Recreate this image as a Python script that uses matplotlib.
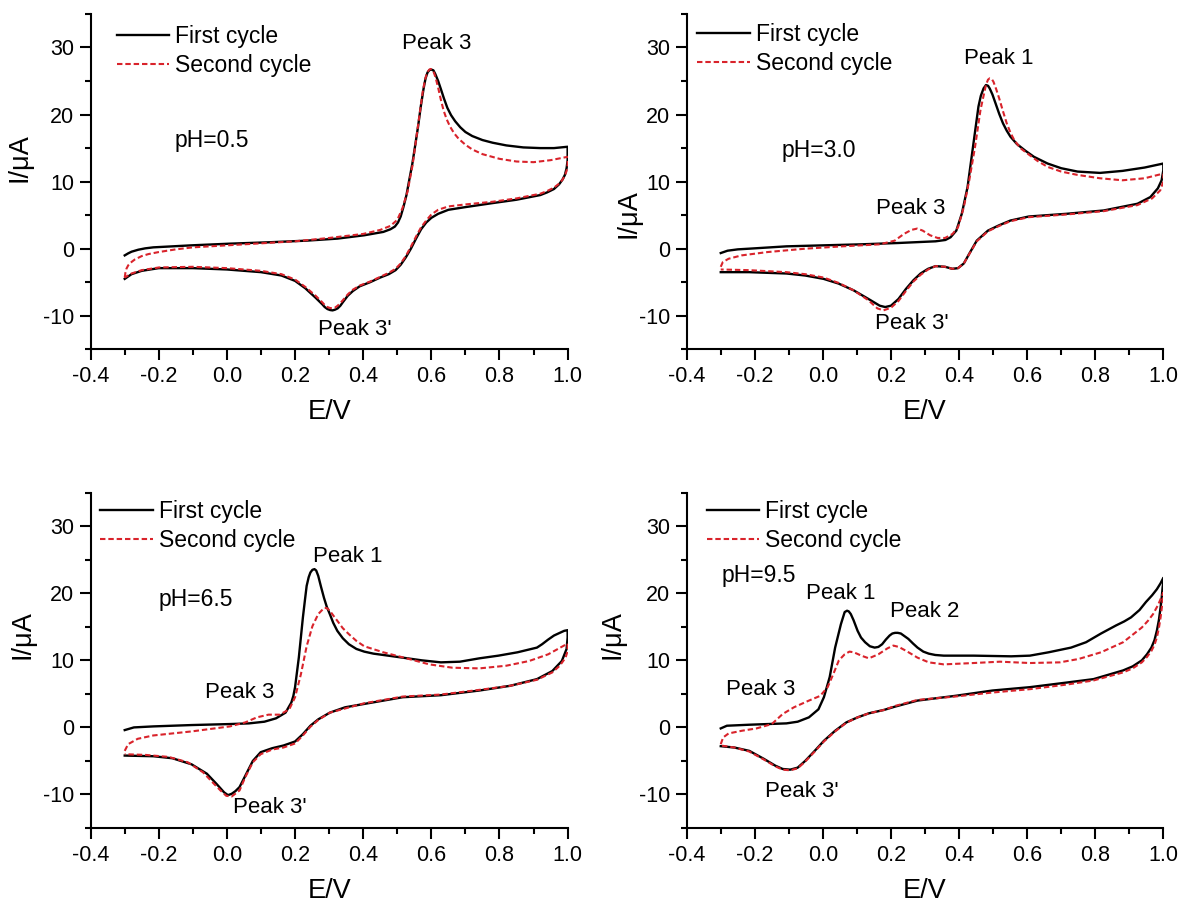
import matplotlib
matplotlib.use("Agg")
import matplotlib.pyplot as plt
from matplotlib.ticker import MultipleLocator

plt.rcParams['font.family'] = ['Liberation Sans', 'DejaVu Sans']

RED = '#d9232b'

# ---------------- pH = 0.5 ----------------
ph05_first_E = [-0.3, -0.29, -0.28, -0.26, -0.24, -0.216, -0.16, -0.104, 0.009, 0.12, 0.234,
                0.324, 0.403, 0.459, 0.48, 0.493, 0.502, 0.51, 0.518, 0.527, 0.535, 0.544,
                0.552, 0.561, 0.569, 0.577, 0.583, 0.589, 0.595, 0.6, 0.606, 0.612, 0.62,
                0.628, 0.637, 0.647, 0.658, 0.67, 0.685, 0.70, 0.72, 0.75, 0.78, 0.82, 0.87,
                0.92, 0.96, 1.0,
                1.0, 0.997, 0.992, 0.985, 0.975, 0.96, 0.94, 0.92, 0.85, 0.78, 0.70, 0.65,
                0.62, 0.60, 0.585, 0.57, 0.555, 0.54, 0.525, 0.51, 0.495, 0.475, 0.45, 0.42,
                0.39, 0.37, 0.355, 0.34, 0.333, 0.325, 0.317, 0.31, 0.303, 0.295, 0.287, 0.28,
                0.26, 0.23, 0.2, 0.16, 0.1, 0.0, -0.1, -0.2, -0.25, -0.28, -0.3]
ph05_first_I = [-1.0, -0.7, -0.45, -0.15, 0.05, 0.2, 0.35, 0.5, 0.75, 0.95, 1.2,
                1.5, 2.0, 2.5, 2.9, 3.3, 3.9, 4.8, 6.2, 8.0, 10.2, 12.6,
                15.2, 18.2, 21.2, 23.8, 25.4, 26.3, 26.65, 26.7, 26.6, 26.0, 25.0,
                23.8, 22.4, 21.0, 19.9, 19.0, 18.1, 17.4, 16.8, 16.2, 15.8, 15.4, 15.1,
                15.0, 15.0, 15.2,
                13.2, 12.0, 11.0, 10.3, 9.6, 8.9, 8.4, 8.0, 7.3, 6.8, 6.2, 5.8,
                5.2, 4.6, 3.9, 2.9, 1.5, 0.0, -1.3, -2.4, -3.2, -3.8, -4.3, -5.0,
                -5.6, -6.3, -7.0, -8.0, -8.5, -8.9, -9.1, -9.2, -9.15, -9.0, -8.7, -8.3,
                -7.3, -5.9, -4.8, -4.0, -3.5, -3.1, -2.9, -2.9, -3.3, -3.8, -4.5]
ph05_second_E = [-0.3, -0.298, -0.295, -0.29, -0.285, -0.278, -0.27, -0.26, -0.25, -0.23, -0.2,
                 -0.15, -0.1, 0.0, 0.1, 0.2, 0.3, 0.4, 0.45, 0.48, 0.5, 0.515, 0.53, 0.545,
                 0.56, 0.575, 0.582, 0.588, 0.594, 0.598, 0.605, 0.612, 0.62, 0.628, 0.636,
                 0.645, 0.655, 0.667, 0.68, 0.70, 0.72, 0.75, 0.8, 0.85, 0.9, 0.95, 1.0,
                 1.0, 0.997, 0.992, 0.985, 0.975, 0.96, 0.94, 0.92, 0.85, 0.78, 0.7, 0.65,
                 0.62, 0.60, 0.585, 0.57, 0.555, 0.54, 0.525, 0.51, 0.495, 0.475, 0.45, 0.42,
                 0.39, 0.37, 0.355, 0.34, 0.333, 0.325, 0.317, 0.31, 0.303, 0.295, 0.287, 0.28,
                 0.26, 0.23, 0.2, 0.16, 0.1, 0.0, -0.1, -0.2, -0.25, -0.28, -0.3]
ph05_second_I = [-4.3, -3.6, -3.0, -2.5, -2.2, -1.9, -1.6, -1.35, -1.1, -0.8, -0.5,
                 -0.1, 0.2, 0.5, 0.8, 1.1, 1.6, 2.2, 2.8, 3.4, 4.3, 6.0, 8.5, 12.5,
                 18.0, 23.5, 25.3, 26.3, 26.7, 26.8, 26.6, 25.6, 24.0, 22.2, 20.6,
                 19.3, 18.2, 17.2, 16.4, 15.5, 14.8, 14.1, 13.4, 13.0, 12.9, 13.2, 13.7,
                 12.5, 11.6, 10.9, 10.3, 9.7, 9.1, 8.6, 8.2, 7.5, 7.0, 6.6, 6.3,
                 5.8, 5.1, 4.2, 3.2, 1.8, 0.3, -1.1, -2.2, -3.0, -3.6, -4.2, -4.9,
                 -5.5, -6.1, -6.8, -7.7, -8.1, -8.5, -8.8, -8.9, -8.85, -8.7, -8.4, -8.0,
                 -7.0, -5.7, -4.6, -3.8, -3.3, -2.9, -2.7, -2.8, -3.2, -3.7, -4.3]

# ---------------- pH = 3.0 ----------------
ph30_first_E = [-0.3, -0.28, -0.25, -0.217, -0.107, 0.002, 0.112, 0.222, 0.331, 0.36, 0.375,
                0.392, 0.408, 0.425, 0.441, 0.457, 0.464, 0.472, 0.479, 0.485, 0.49, 0.498,
                0.507, 0.518, 0.529, 0.54, 0.551, 0.57, 0.595, 0.62, 0.66, 0.7, 0.748,
                0.814, 0.88, 0.945, 1.0,
                1.0, 0.995, 0.984, 0.962, 0.924, 0.825, 0.715, 0.605, 0.551, 0.518, 0.485,
                0.452, 0.43, 0.414, 0.397, 0.38, 0.359, 0.331, 0.309, 0.287, 0.266, 0.244,
                0.222, 0.2, 0.183, 0.167, 0.134, 0.09, 0.046, 0.002, -0.052, -0.107, -0.217,
                -0.3]
ph30_first_I = [-0.65, -0.3, -0.1, 0.0, 0.35, 0.5, 0.65, 0.85, 1.1, 1.3, 1.7,
                2.7, 5.2, 9.2, 15.2, 21.2, 22.8, 23.9, 24.4, 24.3, 23.9, 23.0,
                21.7, 20.1, 18.7, 17.6, 16.7, 15.6, 14.6, 13.7, 12.7, 12.0, 11.5,
                11.3, 11.6, 12.1, 12.7,
                11.7, 10.2, 9.0, 7.7, 6.7, 5.7, 5.2, 4.8, 4.2, 3.5, 2.7,
                1.2, -0.75, -2.2, -2.9, -3.0, -2.7, -2.6, -3.0, -3.7, -4.7, -6.0,
                -7.5, -8.5, -8.7, -8.5, -7.5, -6.2, -5.2, -4.5, -4.0, -3.7, -3.5,
                -3.5]
ph30_second_E = [-0.3, -0.294, -0.277, -0.239, -0.162, -0.052, 0.057, 0.167, 0.211, 0.238, 0.26,
                 0.277, 0.293, 0.315, 0.337, 0.359, 0.381, 0.397, 0.414, 0.43, 0.447, 0.463,
                 0.472, 0.479, 0.485, 0.49, 0.496, 0.501, 0.509, 0.518, 0.529, 0.54, 0.551,
                 0.562, 0.58, 0.606, 0.63, 0.66, 0.7, 0.748, 0.814, 0.88, 0.945, 1.0,
                 1.0, 0.991, 0.967, 0.924, 0.825, 0.715, 0.605, 0.551, 0.518, 0.485,
                 0.452, 0.43, 0.414, 0.397, 0.38, 0.359, 0.331, 0.309, 0.287, 0.266, 0.244,
                 0.222, 0.2, 0.178, 0.16, 0.134, 0.09, 0.046, 0.002, -0.052, -0.107, -0.217,
                 -0.3]
ph30_second_I = [-2.7, -2.0, -1.5, -1.0, -0.5, 0.0, 0.35, 0.65, 1.2, 2.2, 2.8,
                 3.0, 2.7, 2.0, 1.6, 1.6, 2.2, 3.2, 6.2, 10.2, 15.2, 20.7,
                 22.8, 24.4, 25.2, 25.4, 25.3, 24.9, 23.8, 22.4, 20.5, 18.7, 17.3,
                 16.2, 15.0, 14.0, 13.1, 12.2, 11.5, 11.0, 10.5, 10.2, 10.5, 11.2,
                 10.0, 8.7, 7.5, 6.5, 5.6, 5.1, 4.7, 4.1, 3.4, 2.6,
                 1.1, -0.8, -2.2, -2.9, -3.0, -2.7, -2.6, -3.1, -3.9, -4.9, -6.3,
                 -7.8, -8.8, -9.2, -8.9, -7.7, -6.2, -5.1, -4.3, -3.8, -3.5, -3.2,
                 -3.1]

# ---------------- pH = 6.5 ----------------
ph65_first_E = [-0.3, -0.273, -0.216, -0.104, 0.009, 0.065, 0.11, 0.144, 0.172, 0.189, 0.195,
                0.2, 0.205, 0.211, 0.217, 0.223, 0.229, 0.234, 0.24, 0.245, 0.251, 0.257,
                0.262, 0.268, 0.276, 0.285, 0.293, 0.302, 0.312, 0.324, 0.34, 0.358, 0.38,
                0.403, 0.43, 0.459, 0.516, 0.572, 0.628, 0.684, 0.741, 0.797, 0.853, 0.91,
                0.925, 0.943, 0.96, 0.977, 0.99, 1.0,
                1.0, 0.997, 0.983, 0.955, 0.91, 0.831, 0.741, 0.628, 0.516, 0.403, 0.347,
                0.302, 0.268, 0.245, 0.223, 0.2, 0.166, 0.133, 0.099, 0.076, 0.054, 0.045,
                0.037, 0.025, 0.014, 0.003, -0.008, -0.031, -0.059, -0.104, -0.16, -0.216, -0.3]
ph65_first_I = [-0.4, 0.0, 0.15, 0.35, 0.5, 0.6, 0.85, 1.35, 2.2, 3.7, 4.7,
                6.0, 8.0, 10.4, 13.4, 16.4, 19.0, 21.1, 22.4, 23.1, 23.5, 23.6,
                23.4, 22.6, 21.0, 19.3, 18.0, 16.9, 15.6, 14.4, 13.3, 12.4, 11.7,
                11.3, 11.0, 10.8, 10.4, 10.0, 9.7, 9.8, 10.3, 10.7, 11.2, 11.9,
                12.4, 13.1, 13.7, 14.1, 14.4, 14.5,
                13.4, 11.7, 9.9, 8.4, 7.2, 6.2, 5.5, 4.8, 4.5, 3.5, 3.0,
                2.2, 1.2, 0.25, -1.0, -2.1, -2.7, -3.1, -3.7, -5.0, -7.2, -8.1,
                -8.9, -9.5, -9.9, -10.1, -9.7, -8.4, -6.9, -5.5, -4.6, -4.3, -4.2]
ph65_second_E = [-0.3, -0.29, -0.262, -0.216, -0.104, 0.009, 0.054, 0.088, 0.122, 0.155, 0.183,
                 0.2, 0.217, 0.234, 0.251, 0.268, 0.285, 0.293, 0.302, 0.312, 0.324, 0.34,
                 0.358, 0.38, 0.403, 0.459, 0.527, 0.594, 0.662, 0.741, 0.82, 0.887, 0.943, 1.0,
                 1.0, 0.994, 0.977, 0.955, 0.91, 0.831, 0.741, 0.628, 0.516, 0.403, 0.302,
                 0.268, 0.245, 0.223, 0.2, 0.166, 0.133, 0.099, 0.076, 0.054, 0.037, 0.014,
                 -0.002, -0.019, -0.042, -0.07, -0.115, -0.171, -0.239, -0.3]
ph65_second_I = [-3.5, -2.5, -1.7, -1.2, -0.6, 0.15, 0.75, 1.5, 1.9, 1.9, 2.7,
                 4.5, 7.9, 12.1, 15.1, 16.9, 17.8, 17.8, 17.4, 16.7, 15.9, 14.8,
                 13.9, 12.9, 12.1, 11.2, 10.3, 9.4, 8.9, 8.8, 9.2, 9.9, 10.9, 12.5,
                 11.4, 10.4, 9.2, 8.2, 7.1, 6.2, 5.6, 4.9, 4.6, 3.6, 2.2,
                 1.1, 0.1, -1.2, -2.4, -3.0, -3.3, -4.0, -5.2, -7.4, -9.4, -10.3,
                 -10.2, -9.4, -8.2, -6.7, -5.2, -4.4, -4.1, -4.0]

# ---------------- pH = 9.5 ----------------
ph95_first_E = [-0.3, -0.282, -0.216, -0.162, -0.107, -0.074, -0.041, -0.013, 0.003, 0.02, 0.036,
                0.053, 0.064, 0.071, 0.076, 0.082, 0.09, 0.102, 0.112, 0.124, 0.138, 0.152,
                0.163, 0.174, 0.185, 0.196, 0.204, 0.212, 0.22, 0.229, 0.24, 0.251, 0.265,
                0.278, 0.295, 0.311, 0.33, 0.355, 0.443, 0.553, 0.608, 0.663, 0.729, 0.773,
                0.817, 0.861, 0.885, 0.905, 0.93, 0.949, 0.967, 0.981, 0.992, 1.0,
                1.0, 0.998, 0.995, 0.992, 0.987, 0.981, 0.974, 0.965, 0.952, 0.937, 0.91,
                0.882, 0.795, 0.718, 0.608, 0.498, 0.388, 0.278, 0.212, 0.179, 0.135, 0.102,
                0.069, 0.036, 0.003, -0.024, -0.052, -0.074, -0.096, -0.118, -0.14, -0.173,
                -0.216, -0.26, -0.3]
ph95_first_I = [-0.15, 0.25, 0.4, 0.5, 0.6, 0.85, 1.5, 2.7, 4.5, 7.5, 11.9,
                15.4, 17.2, 17.4, 17.3, 16.9, 16.0, 14.4, 13.4, 12.7, 12.1, 11.9,
                12.0, 12.4, 13.1, 13.7, 14.0, 14.1, 14.1, 14.0, 13.6, 13.2, 12.5,
                11.9, 11.3, 11.0, 10.8, 10.7, 10.7, 10.6, 10.7, 11.2, 11.9, 12.7,
                14.0, 15.2, 15.8, 16.4, 17.5, 18.7, 19.7, 20.6, 21.5, 22.3,
                21.6, 20.9, 19.2, 17.9, 16.0, 14.4, 13.0, 11.9, 10.9, 10.0, 9.1,
                8.5, 7.2, 6.7, 6.0, 5.5, 4.7, 4.0, 3.1, 2.6, 2.1, 1.5,
                0.75, -0.5, -2.0, -3.5, -5.0, -6.0, -6.3, -6.2, -5.7, -4.7,
                -3.5, -3.0, -2.8]
ph95_second_E = [-0.3, -0.293, -0.277, -0.238, -0.195, -0.15, -0.118, -0.085, -0.041, -0.008,
                 0.014, 0.031, 0.047, 0.064, 0.078, 0.091, 0.113, 0.135, 0.163, 0.19, 0.207,
                 0.223, 0.245, 0.278, 0.311, 0.355, 0.443, 0.52, 0.608, 0.696, 0.751, 0.817,
                 0.882, 0.937, 0.955, 0.97, 0.985, 1.0,
                 1.0, 0.998, 0.995, 0.992, 0.987, 0.981, 0.974, 0.965, 0.952, 0.937, 0.91,
                 0.882, 0.795, 0.718, 0.608, 0.498, 0.388, 0.278, 0.212, 0.179, 0.135, 0.102,
                 0.069, 0.036, 0.003, -0.024, -0.052, -0.074, -0.096, -0.118, -0.14, -0.173,
                 -0.216, -0.26, -0.3]
ph95_second_I = [-2.5, -1.5, -0.9, -0.5, -0.15, 0.5, 2.0, 3.0, 4.0, 4.7,
                 6.0, 8.0, 10.0, 10.9, 11.3, 11.2, 10.7, 10.3, 10.9, 11.8, 12.2,
                 12.0, 11.4, 10.4, 9.7, 9.4, 9.6, 9.8, 9.6, 9.7, 10.2, 11.2,
                 12.7, 14.9, 15.9, 16.9, 18.3, 20.1,
                 19.5, 18.9, 17.6, 16.4, 14.8, 13.4, 12.3, 11.4, 10.5, 9.7, 8.8,
                 8.2, 7.0, 6.4, 5.7, 5.2, 4.6, 4.1, 3.2, 2.6, 2.1, 1.5,
                 0.7, -0.6, -2.1, -3.6, -5.1, -6.1, -6.4, -6.3, -5.8, -4.8,
                 -3.6, -3.0, -2.7]

# panel texts: (label, E, I)
ph05_labels = [('Peak 3', 0.617, 30.6), ("Peak 3'", 0.375, -12.0)]
ph30_labels = [('Peak 1', 0.516, 28.4), ('Peak 3', 0.258, 6.0), ("Peak 3'", 0.26, -11.2)]
ph65_labels = [('Peak 1', 0.356, 25.5), ('Peak 3', 0.037, 5.2), ("Peak 3'", 0.125, -12.0)]
ph95_labels = [('Peak 1', 0.053, 20.0), ('Peak 2', 0.298, 17.3), ('Peak 3', -0.182, 5.6),
               ("Peak 3'", -0.063, -9.6)]

# rect, data, pH text + position, peak labels, ylabel pos, legend anchor
panels = [
    ([0.0765, 0.6149, 0.4025, 0.3697], ph05_first_E, ph05_first_I, ph05_second_E, ph05_second_I,
     'pH=0.5', (-0.153, 16.1), ph05_labels, (-0.121, 0.571), (0.0546, 0.966)),
    ([0.5795, 0.6149, 0.4022, 0.3697], ph30_first_E, ph30_first_I, ph30_second_E, ph30_second_I,
     'pH=3.0', (-0.12, 14.6), ph30_labels, (-0.094, 0.404), (0.022, 0.974)),
    ([0.0765, 0.0871, 0.4025, 0.3697], ph65_first_E, ph65_first_I, ph65_second_E, ph65_second_I,
     'pH=6.5', (-0.2, 19.1), ph65_labels, (-0.115, 0.578), (0.02, 0.979)),
    ([0.5795, 0.0871, 0.4022, 0.3697], ph95_first_E, ph95_first_I, ph95_second_E, ph95_second_I,
     'pH=9.5', (-0.297, 22.6), ph95_labels, (-0.129, 0.578), (0.042, 0.979)),
]

fig = plt.figure(figsize=(11.85, 9.07), dpi=100)

for rect, e1, i1, e2, i2, ph, ph_pos, labels, ylab, leg_anchor in panels:
    ax = fig.add_axes(rect)
    ax.plot(e1, i1, color='black', lw=1.7, label='First cycle', solid_joinstyle='round')
    ax.plot(e2, i2, color=RED, lw=1.5, ls=(0, (2.6, 1.4)), label='Second cycle')

    ax.set_xlim(-0.4, 1.0)
    ax.set_ylim(-15, 35)
    ax.xaxis.set_minor_locator(MultipleLocator(0.1))
    ax.yaxis.set_minor_locator(MultipleLocator(5))
    ax.set_xticks([-0.4, -0.2, 0.0, 0.2, 0.4, 0.6, 0.8, 1.0])
    ax.set_xticklabels(['-0.4', '-0.2', '0.0', '0.2', '0.4', '0.6', '0.8', '1.0'])
    ax.set_yticks([-10, 0, 10, 20, 30])
    ax.set_yticklabels(['-10', '0', '10', '20', '30'])

    for s in ['top', 'right']:
        ax.spines[s].set_visible(False)
    for s in ['left', 'bottom']:
        ax.spines[s].set_linewidth(1.5)
    ax.tick_params(which='major', direction='out', length=8, width=1.5, labelsize=15.5, pad=4)
    ax.tick_params(which='minor', direction='out', length=4.5, width=1.5)

    ax.set_xlabel('E/V', fontsize=19.5, labelpad=9)
    ax.set_ylabel('I/μA', fontsize=19.5)
    ax.yaxis.set_label_coords(ylab[0], ylab[1])

    ax.legend(loc='upper left', bbox_to_anchor=leg_anchor, frameon=False, fontsize=16.5,
              handlelength=2.3, handletextpad=0.25, labelspacing=0.26, borderpad=0,
              borderaxespad=0)

    ax.text(ph_pos[0], ph_pos[1], ph, fontsize=16.5, ha='left', va='center')
    for txt, x, y in labels:
        ax.text(x, y, txt, fontsize=16, ha='center', va='center')

fig.savefig('out.png', dpi=100)
